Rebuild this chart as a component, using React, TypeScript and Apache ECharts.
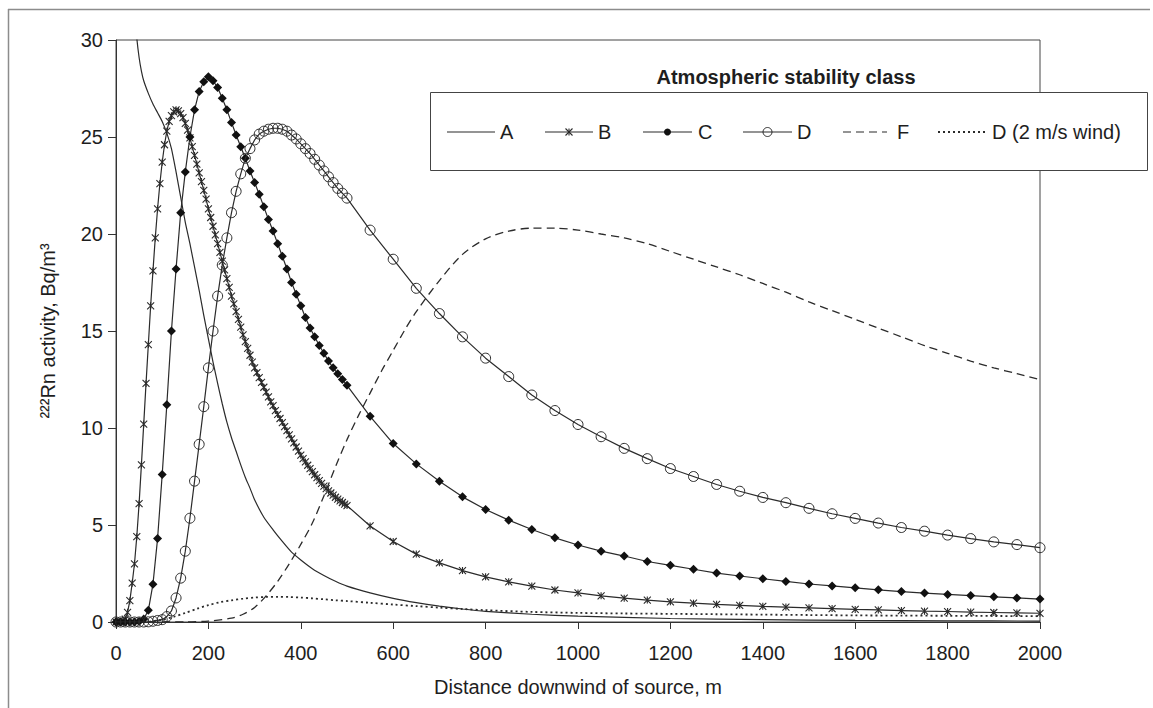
import React, { useEffect, useRef } from "react";
import * as echarts from "echarts";

// distances (m)
const DIST_FINE = [
  0, 5, 10, 15, 20, 25, 30, 35, 40, 45, 50, 55, 60, 65, 70, 75, 80, 85, 90, 95,
  100, 105, 110, 115, 120, 125, 130, 135, 140, 145, 150, 155, 160, 165, 170, 175, 180, 185, 190, 195,
  200, 205, 210, 215, 220, 225, 230, 235, 240, 245, 250, 255, 260, 265, 270, 275, 280, 285, 290, 295,
  300, 305, 310, 315, 320, 325, 330, 335, 340, 345, 350, 355, 360, 365, 370, 375, 380, 385, 390, 395,
  400, 405, 410, 415, 420, 425, 430, 435, 440, 445, 450, 455, 460, 465, 470, 475, 480, 485, 490, 495,
  500,
];
const DIST_MID = [
  0, 10, 20, 30, 40, 50, 60, 70, 80, 90,
  100, 110, 120, 130, 140, 150, 160, 170, 180, 190,
  200, 210, 220, 230, 240, 250, 260, 270, 280, 290,
  300, 310, 320, 330, 340, 350, 360, 370, 380, 390,
  400, 410, 420, 430, 440, 450, 460, 470, 480, 490,
  500,
];
const DIST_TAIL = [
  550, 600, 650, 700, 750, 800, 850, 900, 950, 1000,
  1050, 1100, 1150, 1200, 1250, 1300, 1350, 1400, 1450, 1500,
  1550, 1600, 1650, 1700, 1750, 1800, 1850, 1900, 1950, 2000,
];

// Stability class B (star markers)
const B_FINE = [
  0, 0, 0, 0.02, 0.15, 0.5, 1.1, 2.0, 3.0, 4.4, 6.1, 8.1, 10.2, 12.3, 14.3, 16.3, 18.1, 19.8, 21.3, 22.6,
  23.7, 24.6, 25.3, 25.8, 26.1, 26.3, 26.4, 26.35, 26.2, 26.0, 25.7, 25.35, 24.95, 24.5, 24.05, 23.6, 23.15, 22.7, 22.25, 21.8,
  21.3, 20.85, 20.4, 19.95, 19.5, 19.05, 18.6, 18.15, 17.7, 17.25, 16.8, 16.4, 16.0, 15.6, 15.2, 14.8, 14.45, 14.1, 13.75, 13.4,
  13.1, 12.85, 12.6, 12.35, 12.1, 11.85, 11.6, 11.35, 11.15, 10.9, 10.7, 10.49, 10.28, 10.07, 9.86, 9.65, 9.44, 9.23, 9.02, 8.81,
  8.6, 8.42, 8.25, 8.08, 7.91, 7.75, 7.59, 7.44, 7.29, 7.14, 7.0, 6.88, 6.76, 6.65, 6.54, 6.43, 6.33, 6.24, 6.16, 6.08,
  6.0,
];
const B_TAIL = [
  4.95, 4.15, 3.5, 3.05, 2.65, 2.33, 2.07, 1.85, 1.65, 1.5,
  1.35, 1.23, 1.13, 1.04, 0.97, 0.91, 0.86, 0.81, 0.77, 0.73,
  0.69, 0.65, 0.62, 0.59, 0.56, 0.54, 0.51, 0.49, 0.47, 0.45,
];

// Stability class C (filled markers)
const C_MID = [
  0, 0, 0, 0, 0, 0.02, 0.15, 0.6, 1.95, 4.3,
  7.6, 11.2, 15.0, 18.2, 21.1, 23.2, 25.0, 26.4, 27.35, 27.85,
  28.1, 27.9, 27.55, 27.0, 26.4, 25.75, 25.1, 24.5, 23.9, 23.25,
  22.65, 22.05, 21.4, 20.75, 20.15, 19.5, 18.85, 18.2, 17.5, 16.9,
  16.3, 15.7, 15.15, 14.7, 14.25, 13.85, 13.45, 13.1, 12.8, 12.5,
  12.2,
];
const C_TAIL = [
  10.6, 9.2, 8.15, 7.25, 6.45, 5.8, 5.25, 4.77, 4.34, 3.97,
  3.65, 3.4, 3.12, 2.92, 2.72, 2.52, 2.37, 2.23, 2.09, 1.96,
  1.86, 1.76, 1.66, 1.57, 1.49, 1.42, 1.36, 1.3, 1.24, 1.18,
];

// Stability class D (open circles)
const D_MID = [
  0, 0, 0, 0, 0, 0, 0, 0.01, 0.04, 0.08,
  0.12, 0.28, 0.57, 1.24, 2.26, 3.65, 5.35, 7.26, 9.16, 11.1,
  13.1, 15.0, 16.8, 18.4, 19.8, 21.1, 22.2, 23.1, 23.9, 24.4,
  24.85, 25.15, 25.3, 25.4, 25.45, 25.45, 25.4, 25.3, 25.1, 24.9,
  24.65, 24.4, 24.15, 23.85, 23.55, 23.25, 22.95, 22.65, 22.35, 22.1,
  21.85,
];
const D_TAIL = [
  20.2, 18.7, 17.2, 15.9, 14.7, 13.6, 12.65, 11.7, 10.9, 10.18,
  9.55, 8.95, 8.42, 7.91, 7.5, 7.09, 6.74, 6.42, 6.15, 5.86,
  5.58, 5.34, 5.1, 4.87, 4.68, 4.48, 4.3, 4.13, 3.99, 3.83,
];

// Stability class A (solid line)
const A_DIST = [
  40, 45, 50, 55, 60, 70, 80, 90, 100, 110, 120, 130, 140, 150, 160, 170, 180, 190, 200, 210,
  220, 230, 240, 250, 260, 270, 280, 290, 300, 320, 340, 360, 380, 400, 425, 450, 475, 500,
  550, 600, 650, 700, 750, 800, 900, 1000, 1200, 1400, 1600, 1800, 2000,
];
const A_VAL = [
  31.5, 30.1, 29.1, 28.4, 27.9, 27.25, 26.7, 26.25, 25.8, 25.2, 24.4, 23.2, 21.9, 20.6, 19.5, 18.3, 17.1, 15.8, 14.6, 13.4,
  12.3, 11.25, 10.3, 9.5, 8.8, 8.1, 7.45, 6.9, 6.3, 5.4, 4.75, 4.15, 3.6, 3.2, 2.75, 2.4, 2.1, 1.85,
  1.5, 1.22, 1.0, 0.82, 0.67, 0.55, 0.4, 0.3, 0.18, 0.12, 0.08, 0.06, 0.05,
];

// Stability class F (dashed)
const F_DIST = [
  100, 150, 200, 250, 275, 300, 325, 350, 375, 400, 425, 450, 475, 500, 525, 550, 575, 600, 625, 650,
  700, 750, 800, 850, 900, 950, 1000, 1050, 1100, 1150, 1200, 1250, 1300, 1350, 1400, 1450, 1500,
  1550, 1600, 1650, 1700, 1750, 1800, 1850, 1900, 1950, 2000,
];
const F_VAL = [
  0, 0, 0.05, 0.2, 0.4, 0.75, 1.35, 2.1, 3.0, 4.0, 5.1, 6.5, 8.0, 9.4, 10.65, 11.8, 12.95, 14.0, 15.05, 16.0,
  17.6, 18.95, 19.75, 20.15, 20.3, 20.3, 20.2, 20.0, 19.8, 19.5, 19.1, 18.7, 18.3, 17.9, 17.45, 17.0, 16.5,
  16.05, 15.6, 15.15, 14.7, 14.25, 13.85, 13.45, 13.1, 12.8, 12.5,
];

// Stability class D with 2 m/s wind (dotted)
const D2_DIST = [
  50, 75, 100, 125, 150, 175, 200, 225, 250, 275, 300, 325, 350, 375, 400, 425, 450, 475, 500,
  550, 600, 650, 700, 750, 800, 900, 1000, 1100, 1200, 1300, 1400, 1500, 1600, 1700, 1800, 1900, 2000,
];
const D2_VAL = [
  0, 0.03, 0.12, 0.27, 0.47, 0.68, 0.87, 1.02, 1.12, 1.2, 1.26, 1.29, 1.3, 1.29, 1.26, 1.22, 1.17, 1.12, 1.08,
  0.99, 0.9, 0.82, 0.74, 0.67, 0.61, 0.52, 0.47, 0.44, 0.42, 0.4, 0.38, 0.36, 0.34, 0.33, 0.32, 0.31, 0.3,
];

const X_TICKS = { min: 0, max: 2000, interval: 200 };
const Y_TICKS = { min: 0, max: 30, interval: 5 };

const LEGEND_TITLE = "Atmospheric stability class";
const LEGEND_LABELS = ["A", "B", "C", "D", "F", "D (2 m/s wind)"];
const X_NAME = "Distance downwind of source, m";
const Y_NAME = "\u00b2\u00b2\u00b2Rn activity, Bq/m\u00b3";

const FONT = '"Liberation Sans", Arial, sans-serif';
const INK = "#2b2b2b";
const TXT = "#1e1e1e";

const pairs = (xs: number[], ys: number[]) => xs.map((x, i) => [x, ys[i]]);
const STAR_PATH = "path://M0,0L10,10M10,0L0,10M5,0L5,10";

function buildLegend() {
  const cy = 132;
  const z = 100;
  const els: any[] = [];
  els.push({
    type: "rect", z, shape: { x: 430.5, y: 92.5, width: 717, height: 78 },
    style: { fill: "#fff", stroke: "#444", lineWidth: 1 },
  });
  els.push({
    type: "text", z, x: 786, y: 77,
    style: { text: LEGEND_TITLE, fontSize: 20, fontWeight: "bold", fontFamily: FONT, fill: TXT, align: "center", verticalAlign: "middle" },
  });
  const items = [
    { x0: 447, x1: 495, tx: 500, kind: "solid" },
    { x0: 545, x1: 593, tx: 598, kind: "star" },
    { x0: 643, x1: 692, tx: 698, kind: "dot" },
    { x0: 743, x1: 792, tx: 797, kind: "circle" },
    { x0: 843, x1: 887, tx: 897, kind: "dash" },
    { x0: 938, x1: 987, tx: 992, kind: "dotted" },
  ];
  items.forEach((it, i) => {
    const dash = it.kind === "dash" ? [8, 5] : it.kind === "dotted" ? [2, 3] : null;
    els.push({
      type: "line", z, shape: { x1: it.x0, y1: cy, x2: it.x1, y2: cy },
      style: { stroke: INK, lineWidth: it.kind === "dotted" ? 2 : 1.2, lineDash: dash },
    });
    const mx = (it.x0 + it.x1) / 2;
    if (it.kind === "star") {
      els.push({ type: "line", z: z + 1, shape: { x1: mx - 3.5, y1: cy - 3.5, x2: mx + 3.5, y2: cy + 3.5 }, style: { stroke: INK, lineWidth: 1.1 } });
      els.push({ type: "line", z: z + 1, shape: { x1: mx - 3.5, y1: cy + 3.5, x2: mx + 3.5, y2: cy - 3.5 }, style: { stroke: INK, lineWidth: 1.1 } });
      els.push({ type: "line", z: z + 1, shape: { x1: mx, y1: cy - 3.5, x2: mx, y2: cy + 3.5 }, style: { stroke: INK, lineWidth: 1.1 } });
    } else if (it.kind === "dot") {
      els.push({ type: "circle", z: z + 1, shape: { cx: mx, cy, r: 3.5 }, style: { fill: "#111" } });
    } else if (it.kind === "circle") {
      els.push({ type: "circle", z: z + 1, shape: { cx: mx, cy, r: 4.5 }, style: { fill: "none", stroke: INK, lineWidth: 1 } });
    }
    els.push({
      type: "text", z, x: it.tx, y: cy,
      style: { text: LEGEND_LABELS[i], fontSize: 20, fontFamily: FONT, fill: TXT, align: "left", verticalAlign: "middle" },
    });
  });
  // outer frame of the figure
  els.push({ type: "line", z, shape: { x1: 8, y1: 9.5, x2: 1150, y2: 9.5 }, style: { stroke: "#8c8c8c", lineWidth: 1.5 } });
  els.push({ type: "line", z, shape: { x1: 8.5, y1: 9, x2: 8.5, y2: 708 }, style: { stroke: "#8c8c8c", lineWidth: 1.5 } });
  return els;
}

export default function App() {
  const ref = useRef<HTMLDivElement>(null);
  useEffect(() => {
    document.body.style.margin = "0";
    const chart = echarts.init(ref.current!, null, { renderer: "svg" });
    const option: any = {
      animation: false,
      backgroundColor: "#fff",
      textStyle: { fontFamily: FONT },
      grid: { left: 116, right: 113, top: 40, bottom: 86, show: true, borderColor: "#444", borderWidth: 1 },
      xAxis: {
        type: "value", ...X_TICKS,
        name: X_NAME, nameLocation: "middle", nameGap: 55,
        nameTextStyle: { fontSize: 20, color: TXT, fontFamily: FONT },
        axisLine: { show: true, onZero: false, lineStyle: { color: "#333", width: 1 } },
        axisTick: { show: true, inside: false, length: 7, lineStyle: { color: "#333" } },
        axisLabel: { fontSize: 20, color: TXT, margin: 21, fontFamily: FONT, formatter: (v: number) => String(v) },
        splitLine: { show: false },
      },
      yAxis: {
        type: "value", ...Y_TICKS,
        name: Y_NAME, nameLocation: "middle", nameGap: 58, nameRotate: 90,
        nameTextStyle: { fontSize: 20, color: TXT, fontFamily: FONT },
        axisLine: { show: true, onZero: false, lineStyle: { color: "#333", width: 1 } },
        axisTick: { show: true, inside: false, length: 8, lineStyle: { color: "#333" } },
        axisLabel: { fontSize: 20, color: TXT, margin: 13, fontFamily: FONT, formatter: (v: number) => String(v) },
        splitLine: { show: false },
      },
      series: [
        {
          name: "A", type: "line", data: pairs(A_DIST, A_VAL), symbol: "none", smooth: 0.2,
          lineStyle: { color: INK, width: 1.2 }, clip: true, z: 3,
        },
        {
          name: "B", type: "line", data: pairs([...DIST_FINE, ...DIST_TAIL], [...B_FINE, ...B_TAIL]),
          symbol: STAR_PATH, symbolSize: 7,
          itemStyle: { color: "rgba(0,0,0,0)", borderColor: INK, borderWidth: 1.1 },
          lineStyle: { color: INK, width: 1.2 }, z: 4,
        },
        {
          name: "C", type: "line", data: pairs([...DIST_MID, ...DIST_TAIL], [...C_MID, ...C_TAIL]),
          symbol: "diamond", symbolSize: [9, 9],
          itemStyle: { color: "#111" },
          lineStyle: { color: INK, width: 1.2 }, z: 5,
        },
        {
          name: "D", type: "line", data: pairs([...DIST_MID, ...DIST_TAIL], [...D_MID, ...D_TAIL]),
          symbol: "circle", symbolSize: 10,
          itemStyle: { color: "rgba(0,0,0,0)", borderColor: INK, borderWidth: 1 },
          lineStyle: { color: INK, width: 1.2 }, z: 6,
        },
        {
          name: "F", type: "line", data: pairs(F_DIST, F_VAL), symbol: "none", smooth: 0.3,
          lineStyle: { color: INK, width: 1.3, type: [8, 5] }, z: 3,
        },
        {
          name: "D (2 m/s wind)", type: "line", data: pairs(D2_DIST, D2_VAL), symbol: "none", smooth: 0.3,
          lineStyle: { color: INK, width: 1.8, type: [2, 3] }, z: 3,
        },
      ],
      graphic: buildLegend(),
    };
    chart.setOption(option);
    return () => chart.dispose();
  }, []);
  return <div ref={ref} style={{ width: 1153, height: 708 }} />;
}
